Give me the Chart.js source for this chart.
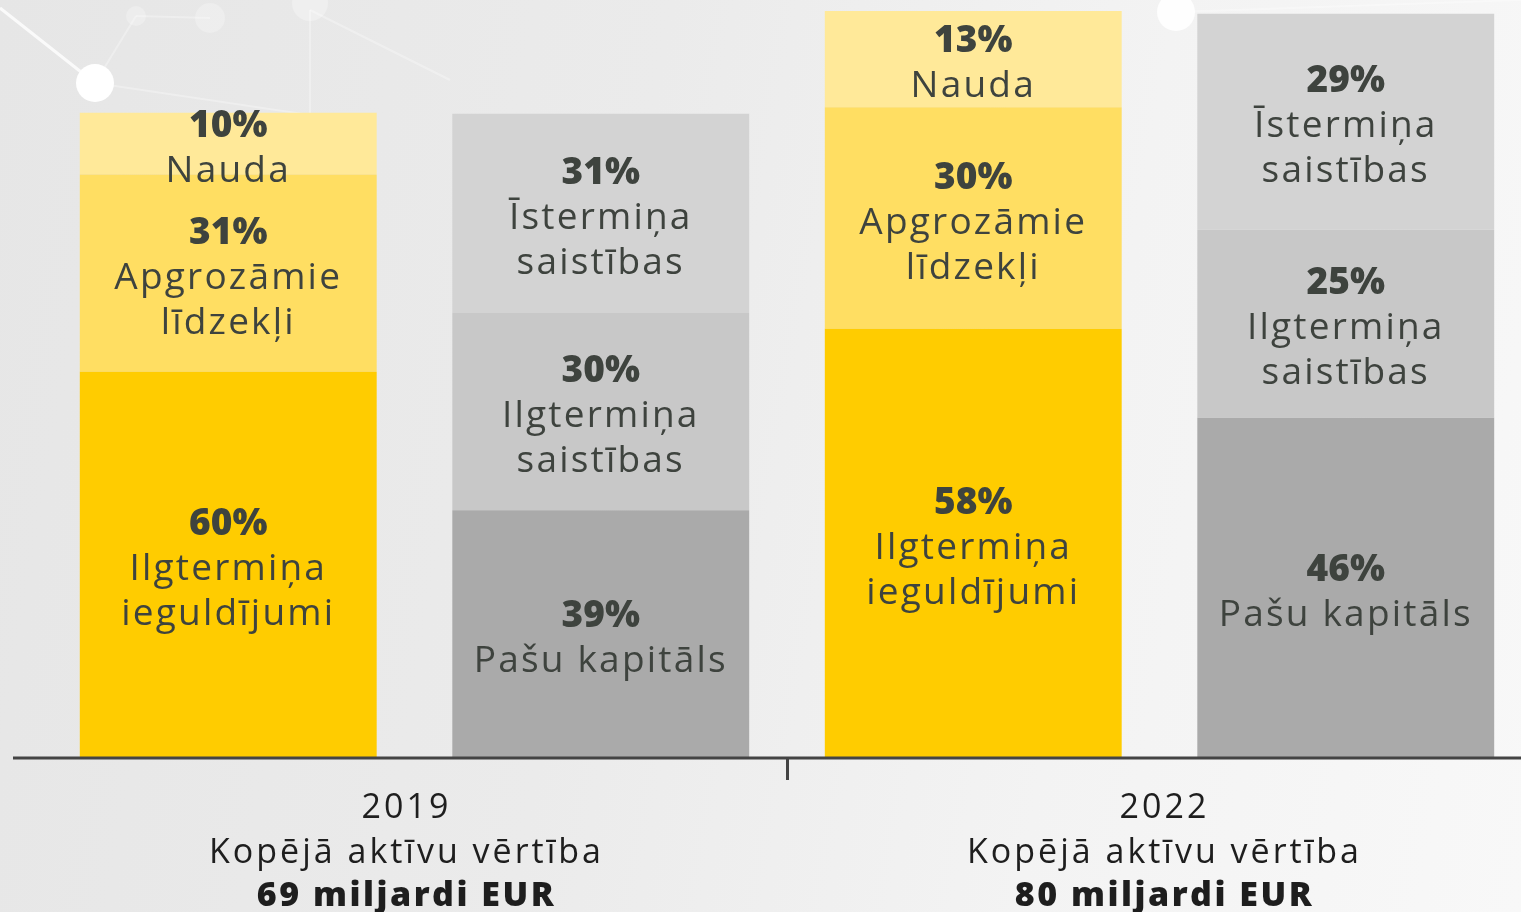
<!DOCTYPE html>
<html lang="lv">
<head>
<meta charset="utf-8">
<title>Aktīvi un saistības</title>
<script src="https://cdn.jsdelivr.net/npm/chart.js@4.4.0/dist/chart.umd.min.js"></script>
<style>
  html, body {
    margin: 0;
    padding: 0;
    width: 1521px;
    height: 912px;
    overflow: hidden;
    background: linear-gradient(100deg, #e6e6e6 0%, #ebebeb 40%, #f3f3f3 70%, #f8f8f8 100%);
  }
  #deco {
    position: absolute;
    left: 0;
    top: 0;
  }
  #wrap {
    position: absolute;
    left: 0;
    top: 0;
    width: 1560px;
    height: 912px;
  }
</style>
</head>
<body>
<svg id="deco" width="1521" height="200">
  <g stroke="#ffffff" stroke-opacity="0.8" stroke-width="3">
    <line x1="0" y1="8" x2="95" y2="83"/>
  </g>
  <g stroke="#ffffff" stroke-opacity="0.3" stroke-width="2">
    <line x1="95" y1="83" x2="136" y2="16"/>
    <line x1="136" y1="16" x2="210" y2="18"/>
    <line x1="95" y1="83" x2="310" y2="115"/>
    <line x1="310" y1="10" x2="310" y2="115"/>
    <line x1="310" y1="10" x2="450" y2="80"/>
    <line x1="1175" y1="12" x2="1521" y2="0"/>
  </g>
  <circle cx="95" cy="83" r="19" fill="#ffffff"/>
  <circle cx="136" cy="16" r="10" fill="#ffffff" fill-opacity="0.25"/>
  <circle cx="210" cy="18" r="15" fill="#ffffff" fill-opacity="0.25"/>
  <circle cx="310" cy="3" r="18" fill="#ffffff" fill-opacity="0.3"/>
  <circle cx="1176" cy="12" r="19" fill="#ffffff" fill-opacity="0.9"/>
</svg>
<div id="wrap"><canvas id="balanceChart"></canvas></div>
<script>
"use strict";

// Kategorijas (gadi) un kopējā aktīvu vērtība
const years = ["2019", "2022"];
const axisSubtitle = "Kopējā aktīvu vērtība";
const totals = ["69 miljardi EUR", "80 miljardi EUR"];

// Aktīvi, miljardi EUR (nolasīti no attēla)
const longTermInvestments = [41.3, 45.9];
const currentAssets = [21.1, 23.7];
const cash = [6.6, 10.3];

// Saistības un pašu kapitāls, miljardi EUR
const equity = [26.5, 36.4];
const longTermLiabilities = [21.1, 20.1];
const shortTermLiabilities = [21.3, 23.1];

// Procentu uzraksti katram segmentam
const longTermInvestmentsPct = ["60%", "58%"];
const currentAssetsPct = ["31%", "30%"];
const cashPct = ["10%", "13%"];
const equityPct = ["39%", "46%"];
const longTermLiabilitiesPct = ["30%", "25%"];
const shortTermLiabilitiesPct = ["31%", "29%"];

const textColor = "#3e433e";
const fontFamily = "'Open Sans', sans-serif";

// Uzraksti segmentu vidū
const segmentLabels = {
    id: "segmentLabels",
    afterDatasetsDraw(chart) {
        const ctx = chart.ctx;
        ctx.save();
        ctx.textAlign = "center";
        ctx.textBaseline = "middle";
        ctx.fillStyle = textColor;
        chart.data.datasets.forEach((ds, i) => {
            const meta = chart.getDatasetMeta(i);
            meta.data.forEach((bar, j) => {
                const lines = [ds.pct[j]].concat(ds.nameLines);
                const lh = 45;
                const cy = (bar.y + bar.base) / 2 + 5;
                let y = cy - (lines.length - 1) * lh / 2;
                lines.forEach((line, k) => {
                    if (k === 0) {
                        ctx.font = "800 37px " + fontFamily;
                        ctx.letterSpacing = "0px";
                    } else {
                        ctx.font = "400 37px " + fontFamily;
                        ctx.letterSpacing = "2.2px";
                    }
                    ctx.fillText(line, bar.x, y);
                    y += lh;
                });
            });
        });
        ctx.restore();
    }
};

// X ass: līnija un uzraksti zem tās
const axisLabels = {
    id: "axisLabels",
    afterDraw(chart) {
        const ctx = chart.ctx;
        const xs = chart.scales.x;
        const y0 = chart.scales.y.getPixelForValue(0);
        const nudge = [-8, 5];
        ctx.save();
        ctx.strokeStyle = "#444";
        ctx.lineWidth = 3;
        ctx.beginPath();
        ctx.moveTo(13, y0);
        ctx.lineTo(chart.width, y0);
        ctx.stroke();

        ctx.textAlign = "center";
        ctx.textBaseline = "middle";
        ctx.fillStyle = "#1e1e1e";
        years.forEach((yr, i) => {
            const x = xs.getPixelForValue(i) + nudge[i];
            ctx.font = "400 34px " + fontFamily;
            ctx.letterSpacing = "3px";
            ctx.fillText(yr, x, y0 + 50);
            ctx.fillText(axisSubtitle, x, y0 + 95);
            ctx.font = "800 34px " + fontFamily;
            ctx.letterSpacing = "2.5px";
            ctx.fillText(totals[i], x, y0 + 138);
        });
        ctx.restore();
    }
};

const ctx = document.getElementById("balanceChart");

const balanceChart = new Chart(ctx, {
    type: "bar",
    data: {
        labels: years,
        datasets: [
            { data: longTermInvestments, pct: longTermInvestmentsPct, nameLines: ["Ilgtermiņa", "ieguldījumi"], stack: "aktivi", backgroundColor: "#ffcc00" },
            { data: currentAssets, pct: currentAssetsPct, nameLines: ["Apgrozāmie", "līdzekļi"], stack: "aktivi", backgroundColor: "#ffde62" },
            { data: cash, pct: cashPct, nameLines: ["Nauda"], stack: "aktivi", backgroundColor: "#ffe999" },
            { data: equity, pct: equityPct, nameLines: ["Pašu kapitāls"], stack: "saistibas", backgroundColor: "#aaaaaa" },
            { data: longTermLiabilities, pct: longTermLiabilitiesPct, nameLines: ["Ilgtermiņa", "saistības"], stack: "saistibas", backgroundColor: "#c8c8c8" },
            { data: shortTermLiabilities, pct: shortTermLiabilitiesPct, nameLines: ["Īstermiņa", "saistības"], stack: "saistibas", backgroundColor: "#d3d3d3" }
        ]
    },
    options: {
        responsive: true,
        maintainAspectRatio: false,
        animation: false,
        events: [],
        layout: {
            padding: { left: 42, right: 28, top: 10, bottom: 132 }
        },
        plugins: {
            legend: { display: false },
            tooltip: { enabled: false }
        },
        datasets: {
            bar: {
                categoryPercentage: 1,
                barPercentage: 0.797,
                borderWidth: 0
            }
        },
        scales: {
            x: {
                stacked: true,
                ticks: { display: false },
                grid: {
                    offset: true,
                    drawOnChartArea: false,
                    drawTicks: true,
                    tickLength: 22,
                    lineWidth: 3,
                    color: c => c.index === 1 ? "#444" : "rgba(0,0,0,0)"
                },
                border: { display: false }
            },
            y: {
                stacked: true,
                display: false,
                min: 0,
                max: 80
            }
        }
    },
    plugins: [segmentLabels, axisLabels]
});
</script>
</body>
</html>
